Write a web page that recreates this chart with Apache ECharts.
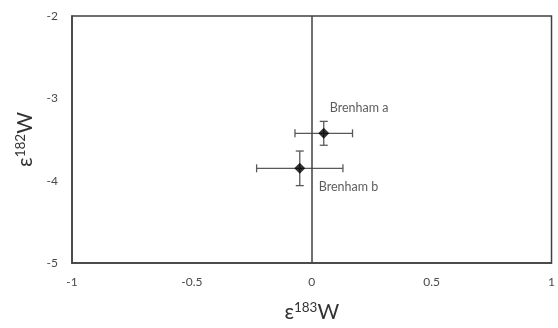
<!DOCTYPE html>
<html><head><meta charset="utf-8">
<script src="https://cdn.jsdelivr.net/npm/echarts@6/dist/echarts.min.js"></script>
<style>html,body{margin:0;padding:0;background:#fff}#c{width:558px;height:328px}</style>
</head><body><div id="c"></div>
<script>
const names = ['Brenham a', 'Brenham b'];
const e183 = [0.05, -0.05];
const e182 = [-3.425, -3.85];
const e183Err = [0.12, 0.18];
const e182Err = [0.145, 0.21];
const labelOffsets = [[6, -25], [19, 19]];

const xTicks = {min: -1, max: 1, interval: 0.5};
const yTicks = {min: -5, max: -2, interval: 1};

const font = 'Lato, "Open Sans", sans-serif';
const dark = '#404040';
const chart = echarts.init(document.getElementById('c'));

const pts = names.map((n, i) => ({
  value: [e183[i], e182[i]],
  label: {show: true, formatter: n, position: 'inside', align: 'left', verticalAlign: 'middle',
          offset: labelOffsets[i], color: '#333', fontSize: 12.5, fontFamily: font}
}));
const errData = names.map((n, i) => [e183[i], e182[i], e183Err[i], e182Err[i]]);

chart.setOption({
  animation: false,
  grid: {left: 72, right: 2, top: 16, bottom: 61, show: true, borderColor: dark, borderWidth: 1.5, containLabel: false},
  xAxis: {
    type: 'value', min: xTicks.min, max: xTicks.max, interval: xTicks.interval,
    splitLine: {show: false}, axisTick: {show: false},
    axisLine: {show: true, onZero: false, lineStyle: {color: dark, width: 1.5}},
    axisLabel: {color: '#4a4a4a', fontSize: 12, fontFamily: font, margin: 13},
    name: '{e|ε}{s|183}{w|W}', nameLocation: 'middle', nameGap: 38,
    nameTextStyle: {rich: {
      e: {fontSize: 21, fontFamily: font, color: '#333'},
      s: {fontSize: 13.5, fontFamily: font, color: '#333', padding: [0, 0, 9, 0]},
      w: {fontSize: 21, fontFamily: font, color: '#333'}
    }}
  },
  yAxis: {
    type: 'value', min: yTicks.min, max: yTicks.max, interval: yTicks.interval,
    splitLine: {show: false}, axisTick: {show: false},
    axisLine: {show: true, onZero: false, lineStyle: {color: dark, width: 1.5}},
    axisLabel: {color: '#4a4a4a', fontSize: 12, fontFamily: font, margin: 14},
    name: '{e|ε}{s|182}{w|W}', nameLocation: 'middle', nameGap: 32, nameRotate: 90,
    nameTextStyle: {rich: {
      e: {fontSize: 21, fontFamily: font, color: '#333'},
      s: {fontSize: 13.5, fontFamily: font, color: '#333', padding: [0, 0, 9, 0]},
      w: {fontSize: 21, fontFamily: font, color: '#333'}
    }}
  },
  series: [
    {
      type: 'line', data: [], silent: true,
      markLine: {symbol: 'none', silent: true, label: {show: false},
        lineStyle: {color: dark, width: 1.5, type: 'solid'},
        data: [{xAxis: 0}]}
    },
    {
      type: 'custom', silent: true, z: 3,
      data: errData,
      renderItem: function (params, api) {
        const x = api.value(0), y = api.value(1), ex = api.value(2), ey = api.value(3);
        const l = api.coord([x - ex, y]), r = api.coord([x + ex, y]);
        const t = api.coord([x, y + ey]), b = api.coord([x, y - ey]);
        const c = 4;
        const st = {stroke: '#595959', lineWidth: 1.3};
        const seg = (x1, y1, x2, y2) => ({type: 'line', shape: {x1, y1, x2, y2}, style: st});
        return {type: 'group', children: [
          seg(l[0], l[1], r[0], r[1]),
          seg(l[0], l[1] - c, l[0], l[1] + c),
          seg(r[0], r[1] - c, r[0], r[1] + c),
          seg(t[0], t[1], b[0], b[1]),
          seg(t[0] - c, t[1], t[0] + c, t[1]),
          seg(b[0] - c, b[1], b[0] + c, b[1])
        ]};
      }
    },
    {
      type: 'scatter', symbol: 'diamond', symbolSize: 11, z: 5,
      itemStyle: {color: '#000'},
      data: pts
    }
  ]
});
</script></body></html>
